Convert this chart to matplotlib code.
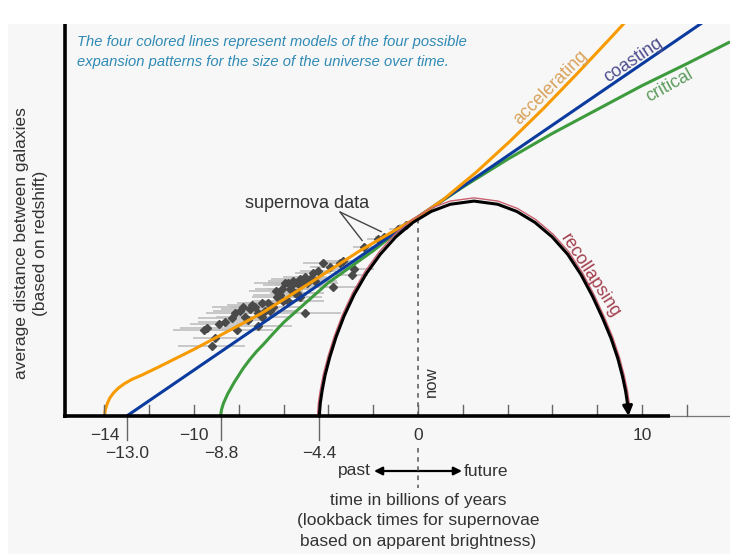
import matplotlib
matplotlib.use("Agg")
import matplotlib.pyplot as plt
from matplotlib.patches import Rectangle
from matplotlib.lines import Line2D

# ---------------------------------------------------------------------------
# Data: time in billions of years (0 = now) vs. relative size (now = 1)
# ---------------------------------------------------------------------------
accel_t = [-14.0, -13.96, -13.88, -13.76, -13.6, -13.38, -13.1, -12.75, -12.3,
           -11.6, -10.8, -10.0, -8.5, -7.0, -4.8, -2.6, -1.3, 0.0, 1.1, 2.6,
           4.1, 5.6, 7.1, 8.6, 9.5]
accel_a = [0.0, 0.03, 0.06, 0.09, 0.115, 0.14, 0.163, 0.185, 0.207,
           0.245, 0.29, 0.335, 0.425, 0.515, 0.67, 0.83, 0.915, 1.0, 1.085,
           1.225, 1.38, 1.545, 1.72, 1.90, 2.01]

coast_t = [-13.0, 0.0, 13.0]
coast_a = [0.0, 1.0, 2.0]

crit_t = [-8.8, -8.79, -8.75, -8.68, -8.6, -8.5, -8.35, -8.2, -8.0, -7.8,
          -7.5, -7.2, -6.9, -6.5, -6.0, -5.5, -5.0, -4.0, -3.0, -2.0, -1.0,
          0.0, 1.0, 2.0, 4.0, 6.0, 8.0, 10.0, 12.0, 13.93]
crit_a = [0.0, 0.02, 0.04, 0.065, 0.085, 0.11, 0.14, 0.17, 0.205, 0.24,
          0.285, 0.325, 0.36, 0.41, 0.47, 0.52, 0.57, 0.67, 0.75, 0.83, 0.92,
          1.0, 1.075, 1.15, 1.29, 1.42, 1.54, 1.66, 1.77, 1.88]

recol_t = [-4.4, -4.39, -4.36, -4.28, -4.15, -3.94, -3.66, -3.30, -2.85,
           -2.31, -1.68, -0.99, -0.22, 0.59, 1.44, 2.5, 3.56, 4.41, 5.22,
           5.99, 6.68, 7.28, 7.80, 8.25, 8.62, 8.92, 9.13, 9.27, 9.35, 9.39,
           9.4]
recol_a = [0.0, 0.024, 0.066, 0.127, 0.204, 0.295, 0.396, 0.502, 0.61,
           0.715, 0.813, 0.90, 0.973, 1.028, 1.064, 1.08, 1.064, 1.028, 0.973,
           0.90, 0.813, 0.71, 0.60, 0.49, 0.39, 0.29, 0.20, 0.125, 0.065,
           0.024, 0.0]

# Supernova measurements (lookback time, relative size, time uncertainty)
sn_t = [-9.55, -9.42, -9.20, -9.06, -8.88, -8.08, -7.95, -7.81, -7.59, -7.50,
        -7.28, -7.14, -6.96, -7.14, -6.61, -6.47, -6.29, -6.07, -5.94, -5.80,
        -5.71, -5.80, -5.58, -5.40, -5.40, -5.27, -5.13, -5.04, -4.96, -5.04,
        -4.69, -4.60, -3.93, -3.79, -3.35, -2.95, -2.86, -2.41, -1.79, -1.52,
        -0.89, -0.54, -7.72, -7.41, -6.83, -6.70, -6.16, -6.03, -5.63, -5.49,
        -5.27, -4.82, -4.46, -4.24, -3.48, -8.30, -8.62, -8.17, -5.27, -6.34,
        -6.96]
sn_a = [0.43, 0.44, 0.35, 0.39, 0.46, 0.43, 0.53, 0.55, 0.48, 0.54,
        0.55, 0.52, 0.50, 0.45, 0.53, 0.55, 0.60, 0.64, 0.67, 0.67,
        0.64, 0.58, 0.68, 0.67, 0.62, 0.69, 0.68, 0.70, 0.67, 0.52,
        0.72, 0.68, 0.75, 0.65, 0.78, 0.71, 0.74, 0.85, 0.89, 0.90,
        0.94, 0.96, 0.50, 0.56, 0.53, 0.57, 0.61, 0.58, 0.66, 0.62,
        0.66, 0.69, 0.73, 0.77, 0.77, 0.49, 0.47, 0.52, 0.60, 0.63,
        0.57]
sn_err = [1.4, 1.2, 1.5, 1.0, 1.3, 1.6, 1.2, 1.4, 1.0, 1.3,
          1.1, 0.9, 1.2, 1.5, 1.0, 1.3, 1.1, 1.2, 1.4, 0.9,
          1.0, 1.6, 1.1, 0.8, 1.2, 1.3, 0.9, 1.0, 1.4, 1.6,
          0.8, 1.0, 0.9, 1.1, 0.8, 0.7, 0.9, 0.5, 0.5, 0.4,
          0.4, 0.3, 1.3, 1.1, 1.4, 1.0, 1.2, 0.9, 1.3, 1.0,
          1.1, 0.9, 0.8, 0.9, 0.7, 1.5, 1.2, 1.3, 1.0, 1.2,
          1.1]

minor_ticks = [-14, -12, -10, -8, -6, -4, -2, 0, 2, 4, 6, 8, 10, 12]
major_ticks = [-14, -10, 0, 10]
origin_ticks = [-13.0, -8.8, -4.4]
now_t = 0.0

# ---------------------------------------------------------------------------
W, H = 730, 554
fig = plt.figure(figsize=(W / 100, H / 100), dpi=100, facecolor="#f7f7f7")
ax = fig.add_axes([0, 0, 1, 1])
ax.set_xlim(-18.66, 13.93)
ax.set_ylim(-0.6935, 2.0905)
ax.axis("off")
ax.patch.set_alpha(0)

def F(x, y):
    """pixel position (from top-left) -> figure fraction"""
    return x / W, 1 - y / H

SANS = ["Liberation Sans", "DejaVu Sans"]
TXT = "#333333"
FS = 12.5

# white strips at the top and left edge
fig.patches.append(Rectangle(F(0, 24), 1, 24 / H, transform=fig.transFigure,
                             facecolor="white", edgecolor="none", zorder=0))
fig.patches.append(Rectangle(F(0, H), 8 / W, 1, transform=fig.transFigure,
                             facecolor="white", edgecolor="none", zorder=0))

x_left = -15.76     # position of the vertical axis line
x_thick_end = 11.25
a_top = 1.97        # top of drawing area

# axes lines
ax.plot([x_left, x_left], [-0.01, 2.065], color="black", lw=2.6,
        solid_capstyle="butt", zorder=5)
ax.plot([x_left - 0.07, x_thick_end], [0, 0], color="black", lw=2.6,
        solid_capstyle="butt", zorder=5)
ax.plot([x_thick_end, 13.93], [0, 0], color="#777777", lw=0.9, zorder=4)

# tick marks inside (every 2 Gyr)
for t in minor_ticks:
    ax.plot([t, t], [0, 0.055], color="#666666", lw=1.0, zorder=4)
# tick marks below for model starting points
for t in origin_ticks:
    ax.plot([t, t], [0, -0.12], color="#666666", lw=1.0, zorder=4)

clip = Rectangle((x_left, -0.05), 40, a_top + 0.05, transform=ax.transData,
                 facecolor="none", edgecolor="none")

# supernova data
ax.errorbar(sn_t, sn_a, xerr=sn_err, fmt="D", ms=4.2, color="#4a4a4a",
            mec="#4a4a4a", ecolor="#bfbfbf", elinewidth=1.2, capsize=0,
            zorder=2)

# model curves
for tt, aa, col in [(crit_t, crit_a, "#3d9b3d"), (coast_t, coast_a, "#0b3b9f"),
                    (accel_t, accel_a, "#f79b00")]:
    ln, = ax.plot(tt, aa, color=col, lw=2.2, zorder=3,
                  solid_capstyle="butt", solid_joinstyle="round")
    ln.set_clip_path(clip)

# recollapsing curve with thin red edge
c0 = 2.5
red_t = [c0 + (t - c0) * 1.012 for t in recol_t]
red_a = [a * 1.015 for a in recol_a]
ax.plot(red_t[:-2], red_a[:-2], color="#c8606e", lw=1.0, zorder=3)
ax.plot(recol_t[:-2], recol_a[:-2], color="black", lw=2.2, zorder=4,
        solid_joinstyle="round")
ax.annotate("", xy=(recol_t[-1], recol_a[-1]),
            xytext=(recol_t[-3], recol_a[-3]),
            arrowprops=dict(arrowstyle="-|>", color="black", lw=2.2,
                            mutation_scale=14, shrinkA=0, shrinkB=0),
            zorder=5)

# "now" dashed line
ax.plot([now_t, now_t], [0, 1.0], color="#555555", lw=1.1,
        dashes=(3, 3), zorder=1)

# x tick labels
for t in major_ticks:
    ax.text(t, -0.10, f"{t}".replace("-", "\u2212"), ha="center", va="center",
            fontsize=FS, color=TXT, family=SANS)
for t in origin_ticks:
    ax.text(t, -0.19, f"{t:.1f}".replace("-", "\u2212"), ha="center",
            va="center", fontsize=FS, color=TXT, family=SANS)

# past / future
yb = 471
fig.lines.append(Line2D([418 / W, 418 / W], [1 - 448 / H, 1 - 488 / H],
                        transform=fig.transFigure, color="#555555", lw=1.1,
                        dashes=(3, 3)))
for xe in (374, 462):
    ax.annotate("", xy=F(xe, yb), xytext=F(418, yb),
                xycoords="figure fraction", textcoords="figure fraction",
                arrowprops=dict(arrowstyle="-|>", color="black", lw=1.6,
                                mutation_scale=12, shrinkA=0, shrinkB=0))
fig.text(*F(371, yb), "past", ha="right", va="center", fontsize=FS,
         color=TXT, family=SANS)
fig.text(*F(464, yb), "future", ha="left", va="center", fontsize=FS,
         color=TXT, family=SANS)

fig.text(*F(418, 521), "time in billions of years\n(lookback times for supernovae\n"
         "based on apparent brightness)", ha="center", va="center",
         fontsize=FS, color=TXT, family=SANS, linespacing=1.45)

# y label
fig.text(*F(31, 243), "average distance between galaxies\n(based on redshift)",
         ha="center", va="center", rotation=90, fontsize=FS, color=TXT,
         family=SANS, linespacing=1.4)

# "now"
fig.text(*F(431, 382), "now", ha="center", va="center", rotation=90,
         fontsize=12, color=TXT, family=SANS)

# heading
fig.text(*F(77, 52), "The four colored lines represent models of the four possible\n"
         "expansion patterns for the size of the universe over time.",
         ha="left", va="center", fontsize=10.6, style="italic",
         color="#2f8ab5", family=SANS, linespacing=1.5)

# curve labels
fig.text(*F(551, 88), "accelerating", ha="center", va="center", rotation=45,
         fontsize=13, color="#d9a25c", family=SANS, rotation_mode="anchor")
fig.text(*F(633, 60), "coasting", ha="center", va="center", rotation=34,
         fontsize=13, color="#4e4e8e", family=SANS, rotation_mode="anchor")
fig.text(*F(670, 86), "critical", ha="center", va="center", rotation=29,
         fontsize=13, color="#5e9e5e", family=SANS, rotation_mode="anchor")
fig.text(*F(590, 276), "recollapsing", ha="center", va="center", rotation=-57,
         fontsize=13, color="#a3404f", family=SANS, rotation_mode="anchor")

# supernova data annotation
fig.text(*F(307, 203), "supernova data", ha="center", va="center",
         fontsize=13, color=TXT, family=SANS)
for tx, ty in [(sn_t[37], sn_a[37]), (sn_t[39], sn_a[39])]:
    ax.annotate("", xy=(tx, ty + 0.02), xytext=F(340, 212),
                textcoords="figure fraction",
                arrowprops=dict(arrowstyle="-", color="#444444", lw=1.0,
                                shrinkA=0, shrinkB=2))

fig.savefig("out.png", dpi=100, facecolor=fig.get_facecolor())
